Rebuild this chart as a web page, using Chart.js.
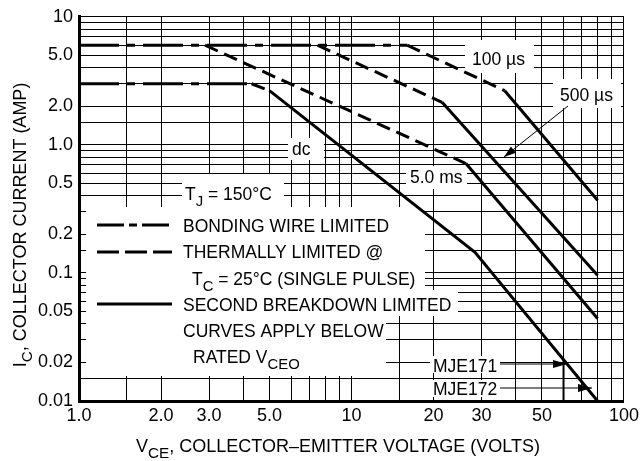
<!DOCTYPE html>
<html lang="en">
<head>
<meta charset="UTF-8">
<title>Active Region Safe Operating Area</title>
<script src="https://cdn.jsdelivr.net/npm/chart.js"></script>
<style>
  html, body { margin: 0; padding: 0; background: #fff; }
  #soa { display: block; }
</style>
</head>
<body>
<canvas id="soa" width="643" height="461"></canvas>
<script>
// grid lines (log paper) and labelled ticks
const xGridValues = [1, 1.5, 2, 3, 4, 5, 6, 7, 8, 9, 10, 15, 20, 30, 40, 50, 60, 70, 80, 90, 100];
const yGridValues = [0.01, 0.015, 0.02, 0.03, 0.04, 0.05, 0.06, 0.07, 0.08, 0.09,
                     0.1, 0.15, 0.2, 0.3, 0.4, 0.5, 0.6, 0.7, 0.8, 0.9,
                     1, 1.5, 2, 3, 4, 5, 6, 7, 8, 9, 10];
const xTickValues = [1, 2, 3, 5, 10, 20, 30, 50, 100];
const xTickLabels = ['1.0', '2.0', '3.0', '5.0', '10', '20', '30', '50', '100'];
const yTickValues = [0.01, 0.02, 0.05, 0.1, 0.2, 0.5, 1, 2, 5, 10];
const yTickLabels = ['0.01', '0.02', '0.05', '0.1', '0.2', '0.5', '1.0', '2.0', '5.0', '10'];

// bonding wire limit (dash-dot)
const bondPulseV = [1.0, 16];    const bondPulseI = [6, 6];
const bondDcV    = [1.0, 4.3];   const bondDcI    = [3, 3];
// thermal limit (dashed)
const therm100usV = [16, 36.5];  const therm100usI = [6, 2.65];
const therm500usV = [7.5, 21.5]; const therm500usI = [6, 2.15];
const therm5msV   = [2.9, 26.3]; const therm5msI   = [6, 0.715];
const thermDcV    = [4.3, 5.0];  const thermDcI    = [3, 2.65];
// second breakdown limit (solid)
const sb100usV = [36.5, 80];        const sb100usI = [2.65, 0.37];
const sb500usV = [21.5, 80];        const sb500usI = [2.15, 0.096];
const sb5msV   = [26.3, 80];        const sb5msI   = [0.715, 0.044];
const sbDcV    = [5.0, 28.4, 80];   const sbDcI    = [2.65, 0.145, 0.01];
// MJE171 rated VCEO cut-off
const vceo171V = [60, 60];          const vceo171I = [0.0212, 0.01];

const FONT = '"Liberation Sans", Arial, Helvetica, sans-serif';
const DASH_DOT = [40, 8, 8, 8];
const DASH = [14, 7];

function pts(v, i) { return v.map((x, k) => ({ x: x, y: i[k] })); }
function curve(v, i, dash, w) {
  return { data: pts(v, i), showLine: true, borderColor: '#000', borderWidth: w || 3,
           borderDash: dash || [], pointRadius: 0, fill: false, tension: 0, borderCapStyle: 'butt' };
}

// white boxes behind the annotation texts (canvas pixels)
const masks = [
  [182, 174, 284, 207], [86, 207, 425, 290], [86, 290, 458, 316], [86, 316, 386, 376],
  [288, 138, 324, 160], [406, 166, 467, 189], [465, 40, 534, 73], [553, 79, 621, 108],
  [430, 356, 500, 373], [430, 380, 500, 397]
];

const notes = [
  { x: 185, y: 200, parts: [{ t: 'T' }, { t: 'J', sub: true }, { t: ' = 150°C' }] },
  { x: 183, y: 232, parts: [{ t: 'BONDING WIRE LIMITED' }] },
  { x: 183, y: 258, parts: [{ t: 'THERMALLY LIMITED @' }] },
  { x: 192, y: 285, parts: [{ t: 'T' }, { t: 'C', sub: true }, { t: ' = 25°C (SINGLE PULSE)' }] },
  { x: 183, y: 311, parts: [{ t: 'SECOND BREAKDOWN LIMITED' }] },
  { x: 183, y: 337, parts: [{ t: 'CURVES APPLY BELOW' }] },
  { x: 193, y: 363, parts: [{ t: 'RATED V' }, { t: 'CEO', sub: true }] },
  { x: 292, y: 155, parts: [{ t: 'dc' }] },
  { x: 410, y: 183, parts: [{ t: '5.0 ms' }] },
  { x: 472, y: 65, parts: [{ t: '100 µs' }] },
  { x: 560, y: 101, parts: [{ t: '500 µs' }] },
  { x: 433, y: 372, parts: [{ t: 'MJE171' }] },
  { x: 433, y: 395, parts: [{ t: 'MJE172' }] }
];

function drawRich(ctx, x, y, parts, size) {
  let cx = x;
  for (const p of parts) {
    const fs = p.sub ? size * 0.85 : size;
    ctx.font = fs + 'px ' + FONT;
    ctx.fillText(p.t, cx, y + (p.sub ? size * 0.32 : 0));
    cx += ctx.measureText(p.t).width;
  }
  return cx - x;
}
function richWidth(ctx, parts, size) {
  let w = 0;
  for (const p of parts) {
    ctx.font = (p.sub ? size * 0.85 : size) + 'px ' + FONT;
    w += ctx.measureText(p.t).width;
  }
  return w;
}
function arrow(ctx, x1, y1, x2, y2, len, half) {
  ctx.beginPath(); ctx.moveTo(x1, y1); ctx.lineTo(x2, y2); ctx.stroke();
  const a = Math.atan2(y2 - y1, x2 - x1);
  ctx.beginPath();
  ctx.moveTo(x2, y2);
  ctx.lineTo(x2 - len * Math.cos(a) + half * Math.sin(a), y2 - len * Math.sin(a) - half * Math.cos(a));
  ctx.lineTo(x2 - len * Math.cos(a) - half * Math.sin(a), y2 - len * Math.sin(a) + half * Math.cos(a));
  ctx.closePath(); ctx.fill();
}
function sample(ctx, y, dash) {
  ctx.save();
  ctx.lineWidth = 3; ctx.setLineDash(dash);
  ctx.beginPath(); ctx.moveTo(97, y); ctx.lineTo(172, y); ctx.stroke();
  ctx.restore();
}

const overlay = {
  id: 'overlay',
  beforeDatasetsDraw(chart) {
    const ctx = chart.ctx;
    ctx.save();
    ctx.fillStyle = '#fff';
    masks.forEach(m => ctx.fillRect(m[0], m[1], m[2] - m[0], m[3] - m[1]));
    ctx.restore();
  },
  afterDatasetsDraw(chart) {
    const ctx = chart.ctx;
    ctx.save();
    ctx.fillStyle = '#000'; ctx.strokeStyle = '#000';
    ctx.textBaseline = 'alphabetic'; ctx.textAlign = 'left';
    notes.forEach(n => drawRich(ctx, n.x, n.y, n.parts, 17.5));
    sample(ctx, 225, [27, 5, 8, 5]);
    sample(ctx, 252, [22, 6]);
    sample(ctx, 304, []);
    ctx.lineWidth = 1;
    arrow(ctx, 568, 106, 504, 157, 12, 4);
    arrow(ctx, 500, 364, 567, 364, 14, 4);
    arrow(ctx, 500, 388, 592, 388, 14, 4);

    // axis titles
    const yt = [{ t: 'I' }, { t: 'C', sub: true }, { t: ', COLLECTOR CURRENT (AMP)' }];
    const xt = [{ t: 'V' }, { t: 'CE', sub: true }, { t: ', COLLECTOR–EMITTER VOLTAGE (VOLTS)' }];
    ctx.save();
    ctx.translate(26, 225);
    ctx.rotate(-Math.PI / 2);
    drawRich(ctx, -richWidth(ctx, yt, 18) / 2, 0, yt, 18);
    ctx.restore();
    drawRich(ctx, 338 - richWidth(ctx, xt, 18) / 2, 452, xt, 18);
    ctx.restore();
  }
};

const tickFont = { family: FONT, size: 18 };

new Chart(document.getElementById('soa').getContext('2d'), {
  type: 'scatter',
  data: {
    datasets: [
      curve(bondPulseV, bondPulseI, DASH_DOT),
      curve(bondDcV, bondDcI, DASH_DOT),
      curve(therm100usV, therm100usI, DASH),
      curve(therm500usV, therm500usI, DASH),
      curve(therm5msV, therm5msI, DASH),
      curve(thermDcV, thermDcI, DASH),
      curve(sb100usV, sb100usI),
      curve(sb500usV, sb500usI),
      curve(sb5msV, sb5msI),
      curve(sbDcV, sbDcI),
      curve(vceo171V, vceo171I, [], 2)
    ]
  },
  options: {
    responsive: false,
    animation: false,
    devicePixelRatio: 1,
    layout: { padding: { top: 16, right: 16, left: 0, bottom: 0 } },
    plugins: { legend: { display: false }, tooltip: { enabled: false } },
    scales: {
      x: {
        type: 'logarithmic', min: 1, max: 100,
        afterBuildTicks: s => { s.ticks = xGridValues.map(v => ({ value: v })); },
        afterFit: s => { s.height = 60; },
        grid: { color: '#000', lineWidth: 1, drawTicks: false },
        border: { color: '#000', width: 3 },
        ticks: {
          autoSkip: false, maxRotation: 0, padding: 4, color: '#000', font: tickFont,
          callback: v => { const i = xTickValues.indexOf(v); return i < 0 ? '' : xTickLabels[i]; }
        }
      },
      y: {
        type: 'logarithmic', min: 0.01, max: 10,
        afterBuildTicks: s => { s.ticks = yGridValues.map(v => ({ value: v })); },
        afterFit: s => { s.width = 79; },
        grid: { color: '#000', lineWidth: 1, drawTicks: false },
        border: { color: '#000', width: 3 },
        ticks: {
          autoSkip: false, padding: 6, color: '#000', font: tickFont,
          callback: v => { const i = yTickValues.indexOf(v); return i < 0 ? '' : yTickLabels[i]; }
        }
      }
    }
  },
  plugins: [overlay]
});
</script>
</body>
</html>
